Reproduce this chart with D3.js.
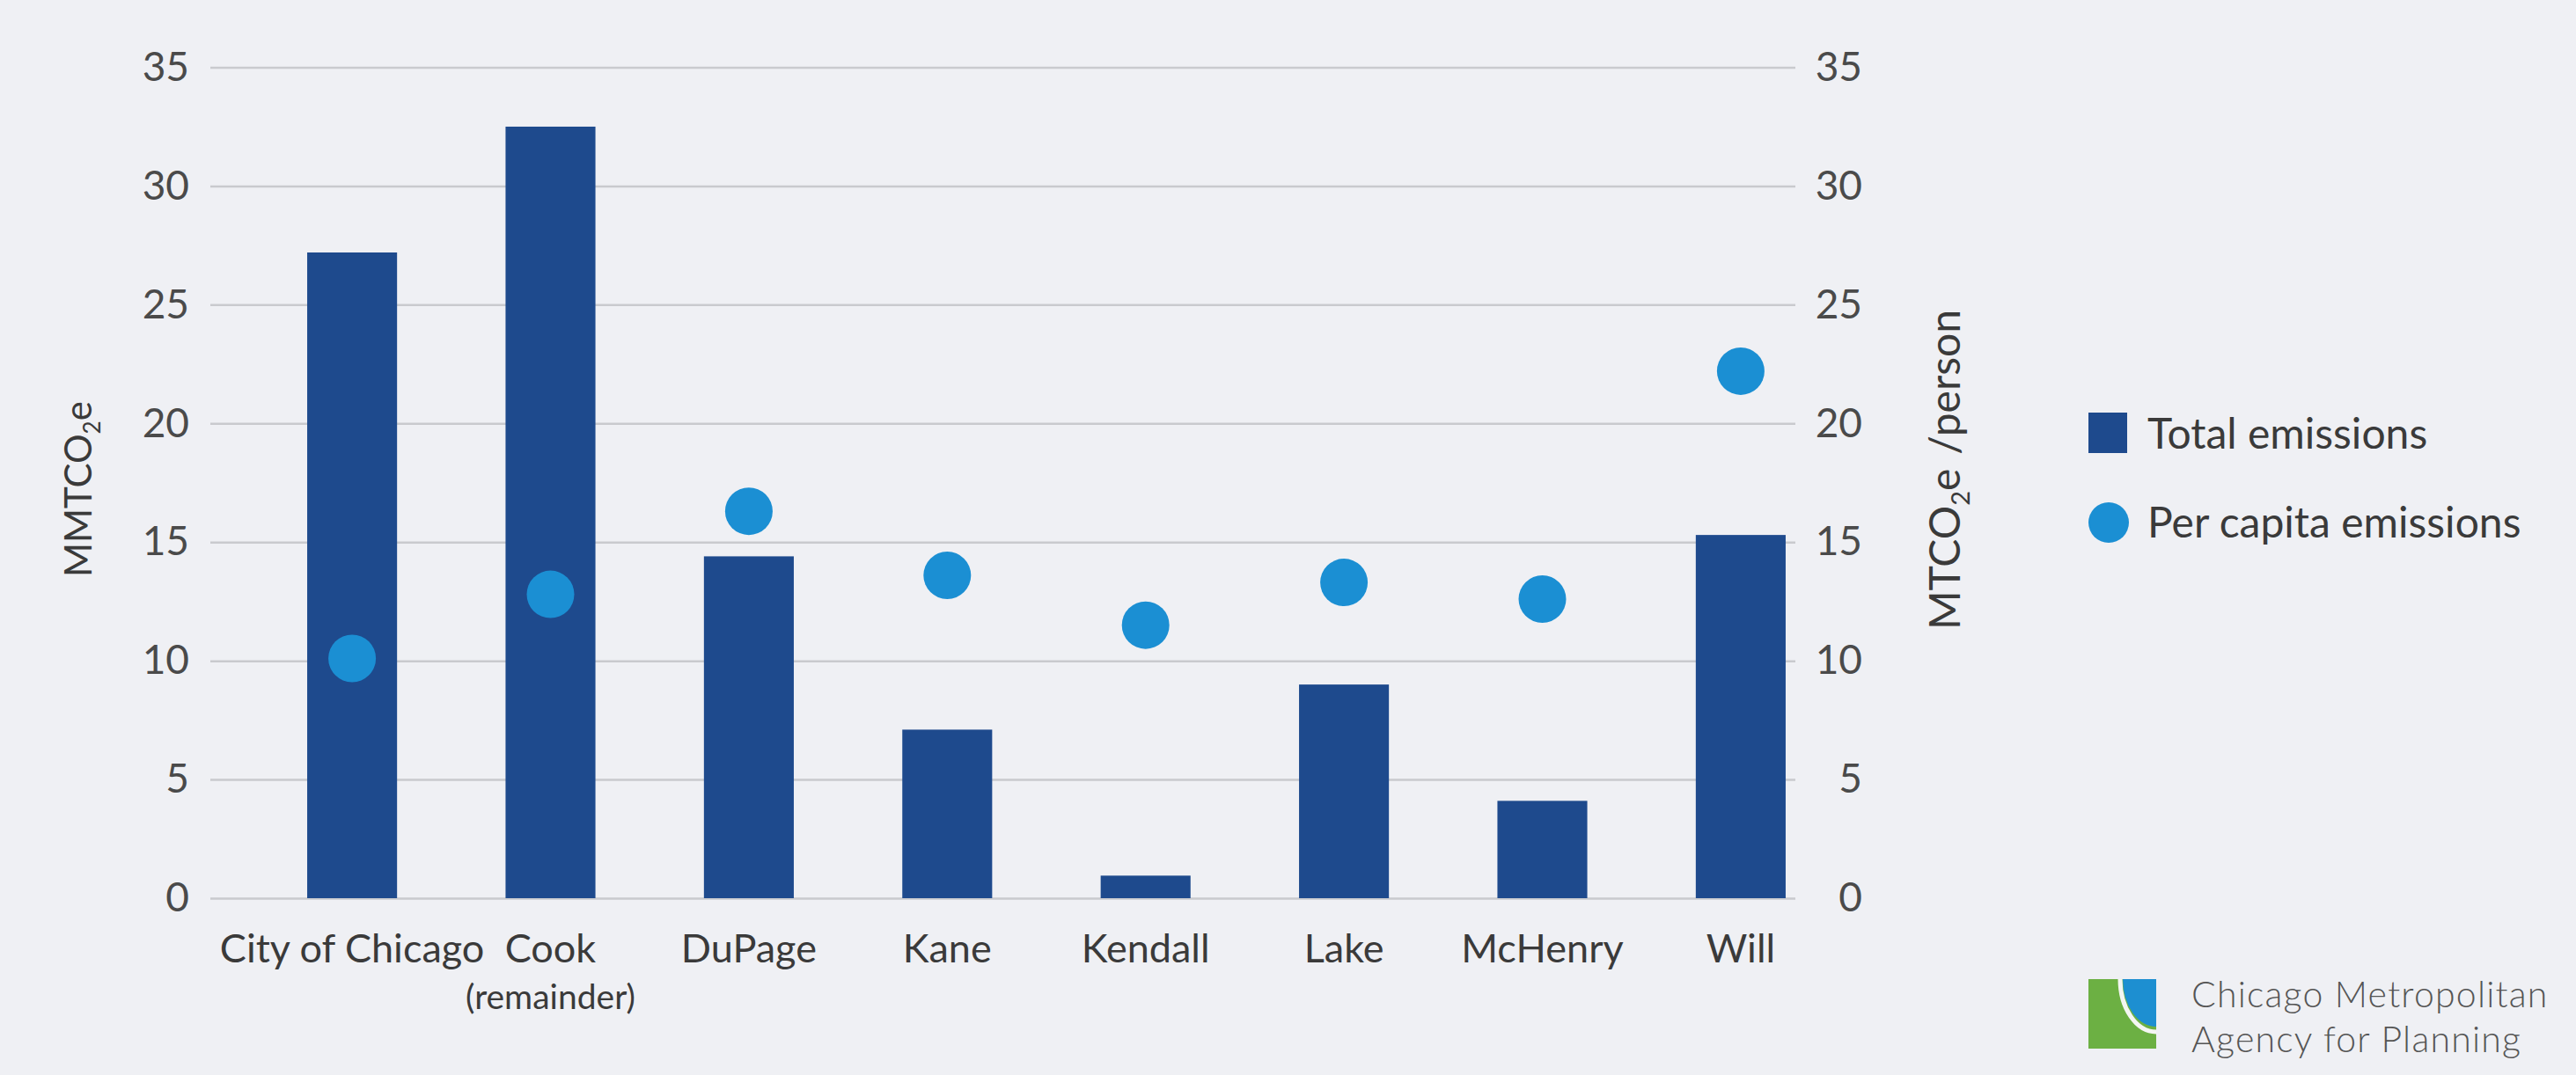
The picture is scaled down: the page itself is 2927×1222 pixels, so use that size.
<!DOCTYPE html>
<html>
<head>
<meta charset="utf-8">
<script src="https://cdn.jsdelivr.net/npm/d3@7"></script>
<style>
  body { margin: 0; background: #eff0f4; }
  svg { display: block; }
  .tick text { font-family: Lato, "Noto Sans", sans-serif; fill: #4a4a4a; }
</style>
</head>
<body>
<div id="chart"></div>
<script>
/* Regional GHG emissions by county */

var categories = ["City of Chicago", "Cook", "DuPage", "Kane", "Kendall", "Lake", "McHenry", "Will"];
var subLabels = ["", "(remainder)", "", "", "", "", "", ""];
var totalEmissions = [27.2, 32.5, 14.4, 7.1, 0.95, 9.0, 4.1, 15.3];
var perCapita = [10.1, 12.8, 16.3, 13.6, 11.5, 13.3, 12.6, 22.2];
var tickValues = [0, 5, 10, 15, 20, 25, 30, 35];

var barColor = "#1e4a8d",
    dotColor = "#1b8fd3",
    gridColor = "#c9cace",
    textColor = "#3a3a3a";

var width = 2927, height = 1222;

var svg = d3.select("#chart")
            .append("svg")
            .attr("width", width)
            .attr("height", height);

svg.append("rect")
    .attr("width", width)
    .attr("height", height)
    .attr("fill", "#eff0f4");

var y = d3.scaleLinear()
    .domain([0, 35])
    .range([1021, 76.5]);

var x = d3.scaleBand()
    .domain(categories)
    .range([287.4, 2090.6])
    .paddingInner(0.547)
    .paddingOuter(0.2735);

var gridLeft = 239, gridRight = 2040;

// left axis + gridlines
var leftAxis = svg.append("g")
    .attr("transform", "translate(" + gridLeft + ",0)")
    .call(d3.axisLeft(y).tickValues(tickValues).tickSize(-(gridRight - gridLeft)).tickPadding(24));
leftAxis.select(".domain").remove();
leftAxis.selectAll(".tick line").attr("stroke", gridColor).attr("stroke-width", 2.5);
leftAxis.selectAll(".tick text").style("font-size", "46px");

// right axis
var rightAxis = svg.append("g")
    .attr("transform", "translate(" + gridRight + ",0)")
    .call(d3.axisRight(y).tickValues(tickValues).tickSize(0).tickPadding(76));
rightAxis.select(".domain").remove();
rightAxis.selectAll(".tick text")
    .style("font-size", "46px")
    .attr("text-anchor", "end");

// bars
svg.append("g")
    .selectAll("rect")
    .data(categories)
    .enter().append("rect")
    .attr("x", function(d) { return x(d); })
    .attr("y", function(d, i) { return y(totalEmissions[i]); })
    .attr("width", x.bandwidth())
    .attr("height", function(d, i) { return y(0) - y(totalEmissions[i]); })
    .attr("fill", barColor);

// per capita dots
svg.append("g")
    .selectAll("circle")
    .data(categories)
    .enter().append("circle")
    .attr("cx", function(d) { return x(d) + x.bandwidth() / 2; })
    .attr("cy", function(d, i) { return y(perCapita[i]); })
    .attr("r", 27)
    .attr("fill", dotColor);

// category labels
var labels = svg.append("g")
    .style("font-family", "Lato, 'Noto Sans', sans-serif")
    .style("fill", textColor);

labels.selectAll("text.cat")
    .data(categories)
    .enter().append("text")
    .attr("class", "cat")
    .attr("x", function(d) { return x(d) + x.bandwidth() / 2; })
    .attr("y", 1094)
    .attr("text-anchor", "middle")
    .style("font-size", "45px")
    .text(function(d) { return d; });

labels.selectAll("text.sub")
    .data(subLabels)
    .enter().append("text")
    .attr("class", "sub")
    .attr("x", function(d, i) { return x(categories[i]) + x.bandwidth() / 2; })
    .attr("y", 1147)
    .attr("text-anchor", "middle")
    .style("font-size", "39px")
    .text(function(d) { return d; });

// axis titles
var leftTitle = svg.append("text")
    .attr("transform", "translate(104,556) rotate(-90)")
    .attr("text-anchor", "middle")
    .style("font-family", "Lato, 'Noto Sans', sans-serif")
    .style("font-size", "42px")
    .style("fill", textColor);
leftTitle.append("tspan").text("MMTCO");
leftTitle.append("tspan").attr("dy", 10).style("font-size", "26px").text("2");
leftTitle.append("tspan").attr("dy", -10).text("e");

var rightTitle = svg.append("text")
    .attr("transform", "translate(2227,534) rotate(-90)")
    .attr("text-anchor", "middle")
    .style("font-family", "Lato, 'Noto Sans', sans-serif")
    .style("font-size", "48px")
    .style("fill", textColor);
rightTitle.append("tspan").text("MTCO");
rightTitle.append("tspan").attr("dy", 11).style("font-size", "29px").text("2");
rightTitle.append("tspan").attr("dy", -11).text("e");
rightTitle.append("tspan").attr("dx", 16).text("/person");

// legend
var legend = svg.append("g")
    .style("font-family", "Lato, 'Noto Sans', sans-serif")
    .style("font-size", "48px")
    .style("fill", textColor);
legend.append("rect")
    .attr("x", 2373).attr("y", 469)
    .attr("width", 44).attr("height", 46)
    .attr("fill", barColor);
legend.append("text").attr("x", 2440).attr("y", 510).text("Total emissions");
legend.append("circle")
    .attr("cx", 2396).attr("cy", 594).attr("r", 23)
    .attr("fill", dotColor);
legend.append("text").attr("x", 2440).attr("y", 611).text("Per capita emissions");

// CMAP logo
var logo = svg.append("g").attr("transform", "translate(2373,1113)");
logo.append("rect").attr("width", 77).attr("height", 79).attr("fill", "#6cb043");
logo.append("path")
    .attr("d", "M39,0 L77,0 L77,54 A38,54 0 0,1 39,0 Z")
    .attr("fill", "#1d8fd1");
logo.append("path")
    .attr("d", "M77,60 A41,60 0 0,1 36,0")
    .attr("fill", "none")
    .attr("stroke", "#f4f6f2")
    .attr("stroke-width", 5);

var logoText = svg.append("g")
    .style("font-family", "Lato, 'Noto Sans', sans-serif")
    .style("font-size", "41px")
    .style("letter-spacing", "1.2px")
    .style("font-weight", 300)
    .style("fill", "#555");
logoText.append("text").attr("x", 2490).attr("y", 1145).text("Chicago Metropolitan");
logoText.append("text").attr("x", 2490).attr("y", 1196).text("Agency for Planning");
</script>
</body>
</html>
